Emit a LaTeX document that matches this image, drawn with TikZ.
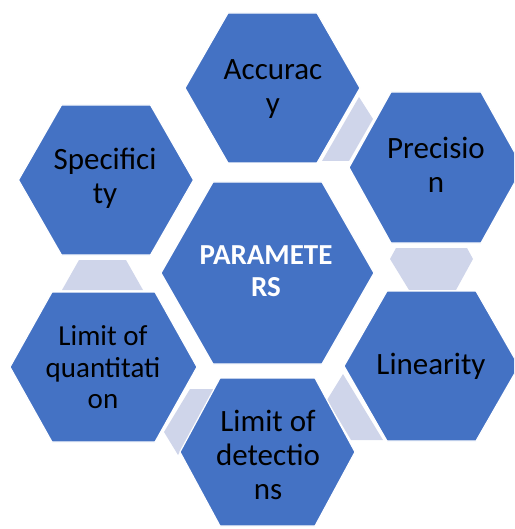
\documentclass[tikz,border=0pt]{standalone}
\usepackage{fontspec}
\setmainfont{Carlito}
\definecolor{hexblue}{HTML}{4472C4}
\definecolor{linkfill}{HTML}{CFD5EA}

% flat-topped hexagon: centre (#1,#2), half width #3, half top edge #4, half height #5
\newcommand\hexcellpath[5]{(#1-#3,#2) -- (#1-#4,#2-#5) -- (#1+#4,#2-#5) -- (#1+#3,#2) -- (#1+#4,#2+#5) -- (#1-#4,#2+#5) -- cycle}

\tikzset{
  hexcell/.style={fill=hexblue, draw=white, line width=1.2pt, line join=miter},
  linkcell/.style={fill=linkfill, draw=none},
  celltext/.style={text=black, align=center, inner sep=0pt, font=\fontsize{31}{34}\selectfont},
  smalltext/.style={celltext, font=\fontsize{29}{31.5}\selectfont},
  hubtext/.style={text=white, align=center, inner sep=0pt, font=\fontsize{29}{32}\selectfont\bfseries},
}

\begin{document}
\begin{tikzpicture}[x=1pt, y=-1pt]
  \useasboundingbox (0,0) rectangle (514,529);
  \clip (0,0) rectangle (514,529);

  % light links between neighbouring cells
  \fill[linkcell] (359,97) -- (373,119) -- (349,161) -- (322,161) -- cycle;
  \fill[linkcell] (396,248) -- (467,248) -- (473,259) -- (456,290) -- (409,290) -- (390,259) -- cycle;
  \fill[linkcell] (343,374) -- (383,440) -- (351,440) -- (327,400) -- cycle;
  \fill[linkcell] (190,389) -- (217,389) -- (178,455) -- (164,432) -- cycle;
  \fill[linkcell] (79,260) -- (126,260) -- (143,290) -- (62,290) -- cycle;

  % hexagon cells
  \draw[hexcell] \hexcellpath{267.5}{273}{106.5}{54.5}{91};
  \draw[hexcell] \hexcellpath{272.5}{88}{87.5}{44.5}{75};
  \draw[hexcell] \hexcellpath{436}{167.5}{87}{45}{75.5};
  \draw[hexcell] \hexcellpath{106}{180}{87.5}{44.5}{75};
  \draw[hexcell] \hexcellpath{103.5}{367}{93.5}{51.5}{75};
  \draw[hexcell] \hexcellpath{431.5}{366}{87.5}{44.5}{75};
  \draw[hexcell] \hexcellpath{267.5}{452}{87.5}{47.5}{74};

  % cell texts
  \node[hubtext]   (hub)  at (266,271.5) {PARAMETE\\RS};
  \node[celltext]  (acc)  at (273,89.5)  {Accurac\\y};
  \node[celltext]  (prec) at (436,165)   {Precisio\\n};
  \node[celltext]  (spec) at (105,178.5) {Specifici\\ty};
  \node[smalltext] (loq)  at (103,367.5) {Limit of\\quantitati\\on};
  \node[celltext]  (lin)  at (431,366)   {Linearity};
  \node[celltext]  (lod)  at (268,455)   {Limit of\\detectio\\ns};
\end{tikzpicture}
\end{document}
